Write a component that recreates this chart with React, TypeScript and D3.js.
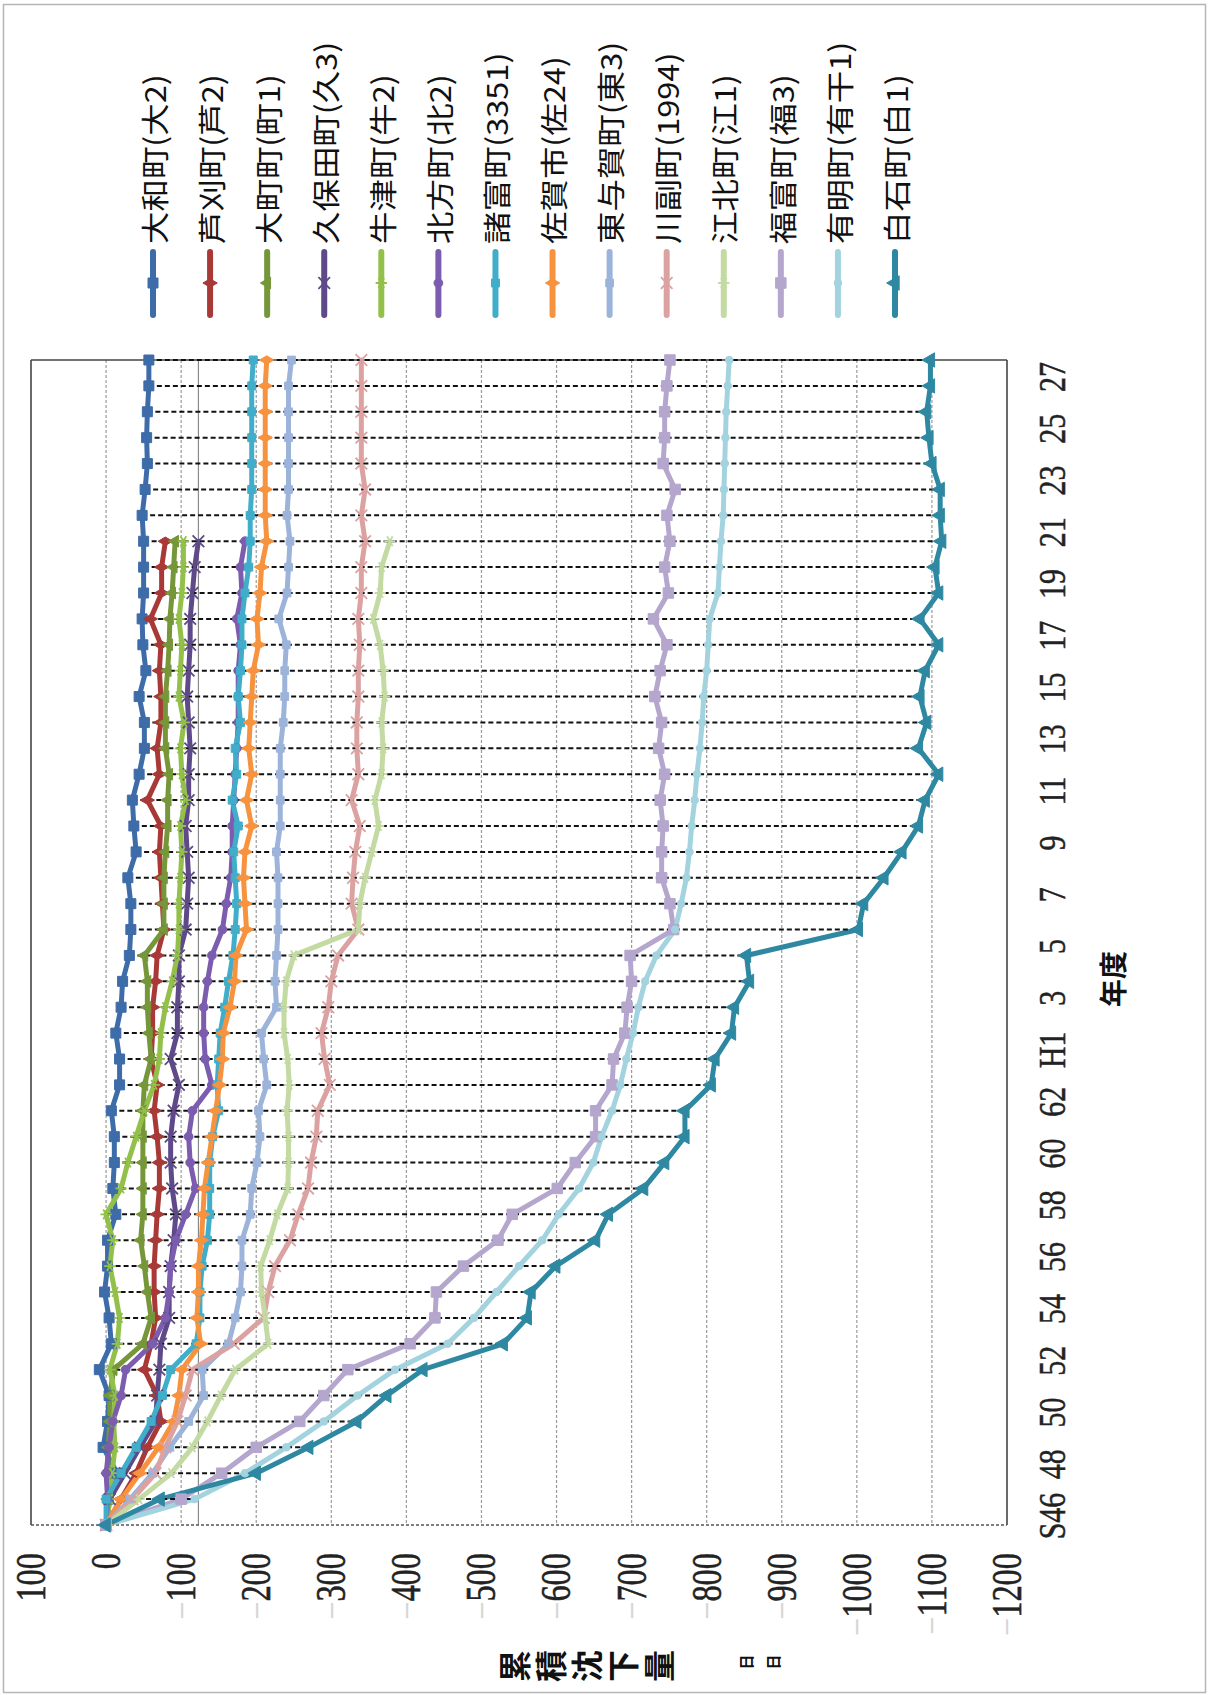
import React from 'react';
import * as d3 from 'd3';

const W = 1208;
const H = 1695;

// Fiscal years S46 (1971) … H28 (2016)
const categories: string[] = [
  'S46','S47','S48','S49','S50','S51','S52','S53','S54','S55','S56','S57','S58','S59','S60','S61','S62','S63',
  'H1','H2','H3','H4','H5','H6','H7','H8','H9','H10','H11','H12','H13','H14','H15','H16','H17','H18','H19','H20',
  'H21','H22','H23','H24','H25','H26','H27','H28'
];
// labels shown on every second category
const tickLabels: string[] = ['S46','48','50','52','54','56','58','60','62','H1','3','5','7','9','11','13','15','17','19','21','23','25','27'];
const valueTicks: number[] = [100, 0, -100, -200, -300, -400, -500, -600, -700, -800, -900, -1000, -1100, -1200];
const gridValues: number[] = [0, -100, -200, -300, -400, -500, -600, -700, -800, -900, -1000, -1100];
const referenceLines: number[] = [-123];
const titleText = '累積沈下量';
const unitText = '日日';
const catTitle = '年度';

// cumulative subsidence (mm)
const yamato = [0,-3,-15,4,-2,-4,9,-7,-4,2, -2,-2,-13,-9,-11,-11,-7,-18,-18,-13, -20,-22,-31,-33,-33,-29,-40,-37,-35,-44, -51,-51,-44,-53,-49,-48,-50,-50,-50,-48, -52,-55,-54,-55,-57,-57];
const ashikari = [0,-20,-40,-55,-73,-68,-51,-60,-66,-64, -64,-66,-68,-71,-71,-68,-64,-68,-60,-62, -62,-66,-68,-77,-75,-73,-71,-73,-55,-71, -68,-73,-73,-71,-73,-59,-74,-74,-79];
const omachi = [0,-2,-2,-3,-5,-5,-10,-49,-60,-55, -51,-46,-49,-49,-49,-49,-49,-51,-60,-57, -55,-55,-51,-77,-77,-77,-79,-82,-82,-84, -79,-79,-79,-82,-84,-85,-88,-90,-92];
const kubota = [0,-5,-25,-45,-66,-68,-71,-73,-84,-84, -86,-90,-93,-88,-86,-86,-90,-97,-86,-95, -95,-97,-97,-106,-108,-110,-108,-106,-110,-110, -112,-110,-108,-110,-112,-112,-115,-118,-123];
const ushizu = [0,-5,-8,-12,-10,-12,-5,-15,-18,-12, -5,-9,0,-20,-29,-40,-51,-64,-71,-73, -79,-88,-95,-97,-97,-99,-101,-99,-106,-101, -99,-104,-97,-99,-101,-97,-101,-103,-103];
const kitagata = [0,-2,0,-4,-9,-20,-26,-62,-79,-84, -86,-93,-106,-119,-112,-110,-115,-141,-132,-130, -130,-135,-141,-155,-160,-166,-168,-168,-170,-172, -174,-176,-176,-176,-179,-174,-181,-179,-185];
const morodomi = [0,0,-20,-40,-60,-75,-86,-120,-125,-125, -128,-135,-138,-138,-138,-142,-150,-148,-150,-152, -158,-163,-169,-172,-174,-172,-170,-176,-168,-174, -172,-179,-176,-179,-181,-181,-185,-190,-192,-192, -194,-194,-194,-194,-194,-196];
const saga = [0,-20,-45,-70,-90,-97,-101,-126,-121,-123, -123,-127,-129,-131,-136,-141,-146,-151,-155,-156, -165,-171,-173,-187,-185,-183,-185,-194,-187,-194, -190,-192,-194,-196,-203,-201,-205,-207,-214,-212, -212,-212,-212,-212,-212,-214];
const higashiyoka = [0,-32,-62,-85,-110,-130,-128,-163,-172,-179, -181,-181,-192,-194,-201,-205,-203,-214,-210,-207, -227,-225,-227,-229,-229,-229,-227,-232,-232,-232, -232,-236,-238,-238,-240,-230,-241,-243,-245,-241, -243,-243,-243,-243,-243,-247];
const kawasoe = [0,-35,-66,-79,-95,-106,-115,-170,-210,-216, -225,-245,-256,-269,-273,-280,-282,-298,-291,-287, -296,-300,-309,-336,-327,-329,-332,-338,-327,-336, -334,-334,-336,-336,-338,-336,-340,-340,-345,-340, -345,-340,-340,-340,-340,-340];
const kohoku = [0,-44,-87,-115,-135,-153,-172,-216,-212,-207, -206,-218,-228,-242,-243,-243,-241,-244,-242,-237, -237,-240,-250,-336,-338,-345,-354,-363,-358,-367, -369,-367,-371,-369,-365,-356,-365,-367,-378];
const fukudomi = [0,-100,-154,-200,-258,-290,-322,-405,-438,-440, -476,-522,-541,-601,-625,-652,-652,-674,-676,-691, -694,-700,-698,-756,-751,-740,-740,-742,-738,-744, -736,-740,-731,-738,-747,-729,-749,-744,-751,-747, -758,-742,-744,-744,-747,-751];
const ariake = [0,-118,-185,-240,-290,-335,-385,-455,-490,-520, -550,-581,-603,-630,-649,-660,-674,-685,-693,-702, -709,-718,-733,-758,-766,-773,-777,-780,-784,-787, -791,-794,-796,-800,-802,-804,-815,-817,-819,-822, -823,-824,-825,-826,-828,-830];
const shiroishi = [0,-72,-200,-270,-334,-374,-422,-529,-561,-566, -599,-652,-669,-716,-744,-771,-771,-806,-811,-833, -837,-857,-853,-1002,-1009,-1036,-1060,-1082,-1091,-1109, -1082,-1093,-1084,-1091,-1109,-1084,-1109,-1104,-1113,-1111, -1111,-1100,-1096,-1093,-1098,-1098];

type Marker = 'square' | 'diamond' | 'triangle' | 'times' | 'asterisk' | 'circle';
interface Series { name: string; values: number[]; color: string; marker: Marker; size: number; }

const series: Series[] = [
  { name: '大和町(大2)', values: yamato, color: '#3D6CA9', marker: 'square', size: 100 },
  { name: '芦刈町(芦2)', values: ashikari, color: '#A83936', marker: 'diamond', size: 60 },
  { name: '大町町(町1)', values: omachi, color: '#76963A', marker: 'triangle', size: 60 },
  { name: '久保田町(久3)', values: kubota, color: '#5E4A88', marker: 'times', size: 90 },
  { name: '牛津町(牛2)', values: ushizu, color: '#93C04A', marker: 'asterisk', size: 90 },
  { name: '北方町(北2)', values: kitagata, color: '#7C5CAE', marker: 'circle', size: 60 },
  { name: '諸富町(3351)', values: morodomi, color: '#40AECA', marker: 'square', size: 64 },
  { name: '佐賀市(佐24)', values: saga, color: '#F7933F', marker: 'diamond', size: 60 },
  { name: '東与賀町(東3)', values: higashiyoka, color: '#9CB3DA', marker: 'square', size: 60 },
  { name: '川副町(1994)', values: kawasoe, color: '#DCA2A1', marker: 'times', size: 90 },
  { name: '江北町(江1)', values: kohoku, color: '#C3DAA3', marker: 'asterisk', size: 90 },
  { name: '福富町(福3)', values: fukudomi, color: '#B5A6CE', marker: 'square', size: 110 },
  { name: '有明町(有干1)', values: ariake, color: '#A3D3DF', marker: 'circle', size: 45 },
  { name: '白石町(白1)', values: shiroishi, color: '#2E88A1', marker: 'triangle', size: 90 },
];

const symbolTypes: Record<Marker, d3.SymbolType> = {
  square: d3.symbolSquare,
  diamond: d3.symbolDiamond,
  triangle: d3.symbolTriangle,
  times: d3.symbolTimes,
  asterisk: d3.symbolAsterisk,
  circle: d3.symbolCircle,
};
const isStroke = (m: Marker) => m === 'times' || m === 'asterisk';

function MarkerShape({ s, x, y }: { s: Series; x: number; y: number }) {
  const d = d3.symbol().type(symbolTypes[s.marker]).size(s.size)() || '';
  const stroke = isStroke(s.marker);
  return (
    <path
      d={d}
      transform={`translate(${x},${y}) rotate(-90)`}
      fill={stroke ? 'none' : s.color}
      stroke={s.color}
      strokeWidth={stroke ? 1.8 : 1}
    />
  );
}

export default function App() {
  const plot = { left: 31, right: 1007, top: 360, bottom: 1525 };
  const xV = d3.scaleLinear().domain([100, -1200]).range([plot.left, plot.right]);
  const yC = d3.scalePoint<number>().domain(d3.range(categories.length)).range([plot.bottom, plot.top]);
  const lineGen = d3.line<number>().x((d) => xV(d)).y((_, i) => yC(i) as number);
  const legendX = d3.scalePoint<string>().domain(series.map((s) => s.name)).range([153, 895]);

  const hiLo = d3.range(1, categories.length).map((i) => {
    const vals = series.filter((s) => i < s.values.length).map((s) => s.values[i]);
    return { i, hi: d3.max(vals) as number, lo: d3.min(vals) as number };
  });

  const serifFont = 'Liberation Serif, DejaVu Serif, serif';
  const cjkFont = 'Noto Sans CJK JP, Noto Sans, sans-serif';

  return (
    <svg width={W} height={H} viewBox={`0 0 ${W} ${H}`} style={{ position: 'absolute', left: 0, top: 0, display: 'block', background: '#fff' }}>
      <rect x={3.5} y={4.5} width={W - 6} height={H - 7} fill="#fff" stroke="#b5b5b5" strokeWidth={1.5} />

      {/* gridlines */}
      {gridValues.map((v) => (
        <line key={'g' + v} x1={xV(v)} x2={xV(v)} y1={plot.top} y2={plot.bottom} stroke="#9a9a9a" strokeWidth={1.2} strokeDasharray="3,2" />
      ))}
      {referenceLines.map((v) => (
        <line key={'r' + v} x1={xV(v)} x2={xV(v)} y1={plot.top} y2={plot.bottom} stroke="#8a8a8a" strokeWidth={1.2} />
      ))}

      {/* plot frame */}
      <line x1={plot.left} x2={plot.right} y1={plot.top} y2={plot.top} stroke="#444" strokeWidth={1.6} />
      <line x1={plot.left} x2={plot.left} y1={plot.top} y2={plot.bottom} stroke="#444" strokeWidth={1.6} />
      <line x1={plot.right} x2={plot.right} y1={plot.top} y2={plot.bottom} stroke="#444" strokeWidth={1.6} />
      <line x1={plot.left} x2={plot.right} y1={plot.bottom} y2={plot.bottom} stroke="#555" strokeWidth={1.6} strokeDasharray="3,2" />

      {/* series lines */}
      {series.map((s) => (
        <path key={'l' + s.name} d={lineGen(s.values) || ''} fill="none" stroke={s.color} strokeWidth={5} strokeLinejoin="round" strokeLinecap="round" />
      ))}

      {/* high-low lines */}
      {hiLo.map((h) => (
        <line key={'h' + h.i} x1={xV(h.hi)} x2={xV(h.lo)} y1={yC(h.i)} y2={yC(h.i)} stroke="#111" strokeWidth={2} strokeDasharray="5,3" />
      ))}

      {/* markers */}
      {series.map((s) => (
        <g key={'m' + s.name}>
          {s.values.map((v, i) => (
            <MarkerShape key={i} s={s} x={xV(v)} y={yC(i) as number} />
          ))}
        </g>
      ))}

      {/* value axis labels (bottom) */}
      {valueTicks.map((v) => (
        <text key={'vt' + v} transform={`translate(${xV(v)},1553) rotate(-90) scale(1.08,1.38)`} textAnchor="end" dominantBaseline="central" fontFamily={serifFont} fontSize={30} fill="#222" stroke="#222" strokeWidth={0.4}>
          {v < 0 ? <tspan fill="#d6d6d6" stroke="none">−</tspan> : null}
          {Math.abs(v)}
        </text>
      ))}

      {/* category axis labels (right) */}
      {tickLabels.map((t, k) => (
        <text key={'ct' + k} transform={`translate(1052,${(yC(k * 2) as number) - 9}) rotate(-90) scale(1,1.25)`} textAnchor="middle" dominantBaseline="central" fontFamily={serifFont} fontSize={30} fill="#222" stroke="#222" strokeWidth={0.4}>
          {t}
        </text>
      ))}

      {/* axis titles */}
      <text transform="translate(1112,979) rotate(-90)" textAnchor="middle" dominantBaseline="central" fontFamily={cjkFont} fontSize={28} fontWeight="bold" fill="#111">
        {catTitle}
      </text>
      {titleText.split('').map((c, k) => (
        <text key={'tt' + k} transform={`translate(${513 + k * 36},1666) rotate(-90)`} textAnchor="middle" dominantBaseline="central" fontFamily={cjkFont} fontSize={32} fontWeight="bold" fill="#111">
          {c}
        </text>
      ))}
      {unitText.split('').map((c, k) => (
        <text key={'ut' + k} transform={`translate(${745 + k * 27},1662) rotate(-90)`} textAnchor="middle" dominantBaseline="central" fontFamily={cjkFont} fontSize={15} fontWeight="bold" fill="#111">
          {c}
        </text>
      ))}

      {/* legend */}
      {series.map((s) => {
        const x = legendX(s.name) as number;
        return (
          <g key={'lg' + s.name}>
            <line x1={x} x2={x} y1={252} y2={315} stroke={s.color} strokeWidth={6} strokeLinecap="round" />
            <MarkerShape s={s} x={x} y={283} />
            <text transform={`translate(${x},244) rotate(-90) scale(1.12,1)`} textAnchor="start" dominantBaseline="central" fontFamily={cjkFont} fontSize={29} fill="#111">
              {s.name}
            </text>
          </g>
        );
      })}
    </svg>
  );
}
